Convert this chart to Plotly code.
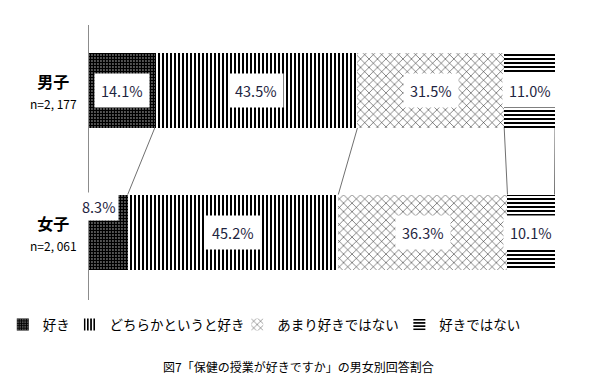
import plotly.graph_objects as go

groups = ["男子", "女子"]
group_n = ["n=2, 177", "n=2, 061"]
categories = ["好き", "どちらかというと好き", "あまり好きではない", "好きではない"]
values = {
    "好き": [14.1, 8.3],
    "どちらかというと好き": [43.5, 45.2],
    "あまり好きではない": [31.5, 36.3],
    "好きではない": [11.0, 10.1],
}
title_text = "図7「保健の授業が好きですか」の男女別回答割合"

FONT = "Noto Sans CJK JP"
ypos = [1, 0]
bw = 0.53
patterns = {
    "好き": dict(shape=".", size=3, solidity=0.8),
    "どちらかというと好き": dict(shape="|", size=4, solidity=0.5),
    "あまり好きではない": dict(shape="x", size=6, solidity=0.15),
    "好きではない": dict(shape="-", size=4, solidity=0.5),
}
legend_ids = ["legend", "legend2", "legend3", "legend4"]
legend_x = [-0.185, -0.042, 0.318, 0.666]

fig = go.Figure()
for i, c in enumerate(categories):
    p = patterns[c]
    fig.add_trace(go.Bar(
        x=values[c], y=ypos, orientation="h", name=c, width=bw, legend=legend_ids[i],
        marker=dict(color="white", line=dict(width=0),
                    pattern=dict(shape=p["shape"], size=p["size"], solidity=p["solidity"],
                                 fgcolor="black", bgcolor="white", fillmode="replace")),
        hoverinfo="skip",
    ))

# data labels
for gi in range(len(groups)):
    cum = 0
    for ci, c in enumerate(categories):
        v = values[c][gi]
        center = cum + v / 2
        cum += v
        ann = dict(x=center, y=ypos[gi], text=f"{v:.1f}%", showarrow=False,
                   bgcolor="white", borderpad=6,
                   font=dict(family=FONT, size=14.5, color="#1e2440"))
        if gi == 1 and ci == 0:
            ann.update(x=cum, xanchor="right", y=ypos[gi] + bw / 2, yanchor="middle",
                       borderpad=3, xshift=-9, yshift=-12)
        fig.add_annotation(**ann)

# series lines between boundaries
cm = 0
cf = 0
for c in categories[:-1]:
    cm += values[c][0]
    cf += values[c][1]
    fig.add_shape(type="line", x0=cm, y0=ypos[0] - bw / 2, x1=cf, y1=ypos[1] + bw / 2,
                  line=dict(color="#707070", width=1))
cm += values[categories[-1]][0]
cf += values[categories[-1]][1]
fig.add_shape(type="line", x0=min(cm, 100), y0=ypos[0] - bw / 2, x1=min(cf, 100), y1=ypos[1] + bw / 2,
              line=dict(color="#707070", width=1))

# group labels
for gi, g in enumerate(groups):
    fig.add_annotation(x=0, xref="x", y=ypos[gi], yref="y", xanchor="right", xshift=-10,
                       text=f"<b>{g}</b><br><span style='font-size:12px'>{group_n[gi]}</span>",
                       showarrow=False, align="center",
                       font=dict(family=FONT, size=16, color="black"))

fig.add_annotation(x=0.45, xref="paper", xanchor="center", y=-0.24, yref="paper", yanchor="middle",
                   text=title_text, showarrow=False,
                   font=dict(family=FONT, size=12, color="black"))

leg_common = dict(orientation="h", xanchor="left", y=-0.09, yanchor="middle",
                  font=dict(family=FONT, size=13.5, color="black"),
                  itemwidth=30, bgcolor="rgba(0,0,0,0)")
fig.update_layout(
    width=592, height=386,
    barmode="stack",
    plot_bgcolor="white", paper_bgcolor="white",
    margin=dict(l=89, r=37, t=25, b=86, autoexpand=False),
    showlegend=True,
    font=dict(family=FONT),
    **{lid: dict(x=legend_x[i], **leg_common) for i, lid in enumerate(legend_ids)},
)
fig.update_xaxes(range=[0, 100], visible=False, fixedrange=True)
fig.update_yaxes(range=[-0.48, 1.463], showticklabels=False, showgrid=False, zeroline=False,
                 showline=True, linecolor="#8c8c8c", linewidth=1, ticks="")

fig.write_html("out.html", config={"displayModeBar": False},
               post_script="document.body.style.margin='0px';")
